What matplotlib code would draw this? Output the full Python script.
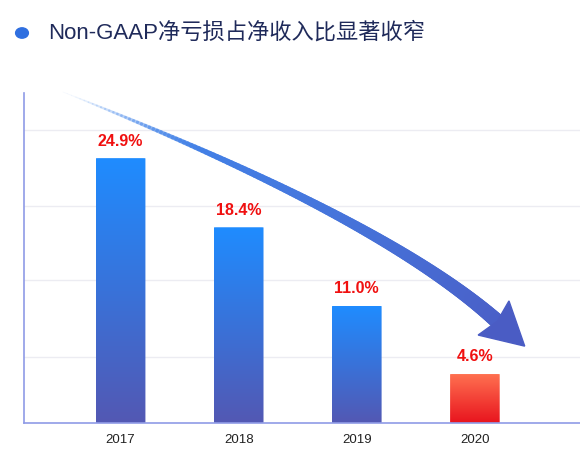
import numpy as np
import matplotlib.pyplot as plt
from matplotlib.patches import FancyBboxPatch, Polygon
from matplotlib.collections import LineCollection
from matplotlib.colors import LinearSegmentedColormap
from matplotlib.transforms import Affine2D

plt.rcParams['font.family'] = ['Liberation Sans', 'Noto Sans CJK SC', 'DejaVu Sans']

years = ['2017', '2018', '2019', '2020']
values = [24.9, 18.4, 11.0, 4.6]
labels = ['24.9%', '18.4%', '11.0%', '4.6%']

W, H = 580, 471
fig = plt.figure(figsize=(W / 100, H / 100), dpi=100)
ax = fig.add_axes([0.041, 0.102, 0.959, 0.70])
ax.set_xlim(-0.82, 3.89)
ax.set_ylim(0, 31)

blue = LinearSegmentedColormap.from_list('b', ['#5358b3', '#1f8cff'])
red = LinearSegmentedColormap.from_list('r', ['#e8141e', '#ff7050'])
grad = np.linspace(0, 1, 256).reshape(-1, 1)
w = 0.42
for i, v in enumerate(values):
    cmap = red if i == 3 else blue
    im = ax.imshow(grad, cmap=cmap, origin='lower', aspect='auto',
                   extent=[i - w / 2, i + w / 2, 0, v], zorder=2)
    patch = FancyBboxPatch((i - w / 2, 0), w, v, boxstyle='round,pad=0,rounding_size=0.02',
                           transform=ax.transData, facecolor='none', edgecolor='none')
    ax.add_patch(patch)
    im.set_clip_path(patch)
    ax.text(i, v + 0.9, labels[i], ha='center', va='bottom', color='#f01010',
            fontsize=11.5, fontweight='bold')

for gy in [6.2, 13.4, 20.4, 27.5]:
    ax.axhline(gy, color='#ececf2', lw=1, zorder=0)

ax.set_xticks(range(len(years)))
ax.set_xticklabels(years, fontsize=9.5, color='#222222')
ax.tick_params(length=0, pad=8)
ax.set_yticks([])
for s in ['top', 'right']:
    ax.spines[s].set_visible(False)
for s in ['left', 'bottom']:
    ax.spines[s].set_color('#8f9be6')
    ax.spines[s].set_linewidth(1.2)

# tapered curved arrow, drawn in pixel coords (y down)
px = Affine2D().scale(1, -1).translate(0, H)
p0, c, p2 = np.array([63, 92]), np.array([384, 219]), np.array([498, 322])
t = np.linspace(0, 1, 150)[:, None]
pts = (1 - t) ** 2 * p0 + 2 * (1 - t) * t * c + t ** 2 * p2
segs = np.stack([pts[:-1], pts[1:]], axis=1)
tt = t[:-1, 0]
widths = 0.5 + 10.5 * tt ** 0.8
cols = np.zeros((len(tt), 4))
cols[:, :3] = np.array([0x4a, 0x60, 0xc8]) / 255 * (0.3 + 0.7 * tt[:, None]) + \
    np.array([0x3d, 0x9b, 0xff]) / 255 * (0.7 - 0.7 * tt[:, None])
cols[:, :3] = np.clip(cols[:, :3], 0, 1)
cols[:, 3] = np.clip(tt * 4, 0.05, 1)
lc = LineCollection(segs, linewidths=widths, colors=cols, transform=px,
                    capstyle='round', zorder=3)
fig.add_artist(lc)
d = (p2 - c) / np.linalg.norm(p2 - c)
n = np.array([-d[1], d[0]])
head = Polygon([p2 + n * 23 - d * 6, p2 + d * 36, p2 - n * 23 - d * 6, p2 - d * 1],
               closed=True, color='#4a5cc4', transform=px, zorder=3)
fig.add_artist(head)

fig.patches.append(plt.Circle((22 / W, 1 - 33 / H), 0.011, transform=fig.transFigure,
                              color='#2f6fe0', figure=fig))
fig.text(48 / W, 1 - 33 / H, 'Non-GAAP净亏损占净收入比显著收窄', fontsize=16,
         color='#1f2a5a', va='center', ha='left')

fig.savefig('out.png', dpi=100)
